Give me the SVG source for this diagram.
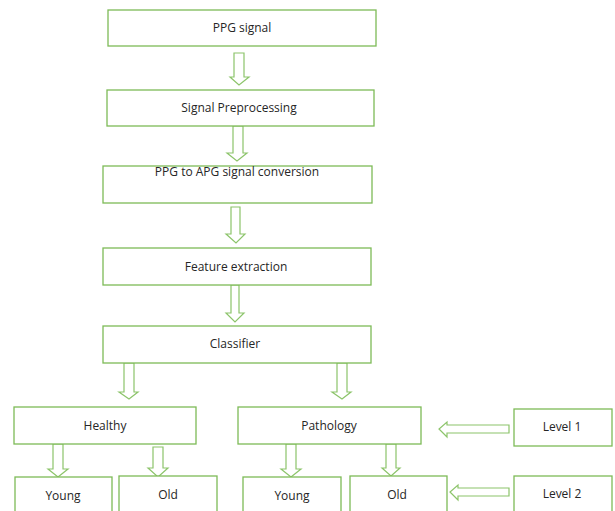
<svg xmlns="http://www.w3.org/2000/svg" width="615" height="511" viewBox="0 0 615 511">
  <style>
    .box { fill: #ffffff; stroke: #7dbb57; stroke-width: 1.3; }
    .arr { fill: #ffffff; stroke: #8cc46a; stroke-width: 1.2; stroke-linejoin: miter; }
    .lbl { font-family: "Open Sans", "Liberation Sans", sans-serif; font-size: 12px; fill: #262626; text-anchor: middle; }
  </style>
  <rect width="615" height="511" fill="#ffffff"/>

  <!-- block arrows -->
  <g id="connectors">
    <!-- PPG signal -> Signal Preprocessing -->
    <polygon class="arr" points="234,53 244,53 244,77 249,77 239,85 230,77 234,77"/>
    <!-- Signal Preprocessing -> PPG to APG -->
    <polygon class="arr" points="233,126 243,126 243,153 247,153 237,161 227,153 233,153"/>
    <!-- PPG to APG -> Feature extraction -->
    <polygon class="arr" points="231,207 240,207 240,234 245,234 236,243 226,234 231,234"/>
    <!-- Feature extraction -> Classifier -->
    <polygon class="arr" points="231,285 239,285 239,313 244,313 235,322 226,313 231,313"/>
    <!-- Classifier -> Healthy -->
    <polygon class="arr" points="124,363 134,363 134,392 138,392 129,399 119,392 124,392"/>
    <!-- Classifier -> Pathology -->
    <polygon class="arr" points="337,363 347,363 347,392 351,392 342,399 332,392 337,392"/>
    <!-- Level 1 -> Pathology -->
    <polygon class="arr" points="509,425 509,433 447,433 447,437 439,429 447,422 447,425"/>
    <!-- Healthy -> Young -->
    <polygon class="arr" points="53,444 63,444 63,469 68,469 58,477 48,469 53,469"/>
    <!-- Healthy -> Old -->
    <polygon class="arr" points="153,447 163,447 163,468 168,468 158,477 148,468 153,468"/>
    <!-- Pathology -> Young -->
    <polygon class="arr" points="286,444 296,444 296,469 301,469 291,477 281,469 286,469"/>
    <!-- Pathology -> Old -->
    <polygon class="arr" points="386,444 396,444 396,468 400,468 391,476 382,468 386,468"/>
    <!-- Level 2 -> Old -->
    <polygon class="arr" points="509,488 509,496 458,496 458,500 450,492 458,485 458,488"/>
  </g>

  <g id="ppg-signal">
    <rect class="box" x="108" y="10" width="268" height="36"/>
    <text class="lbl" x="242" y="32">PPG signal</text>
  </g>
  <g id="signal-preprocessing">
    <rect class="box" x="107" y="90" width="267" height="36"/>
    <text class="lbl" x="239" y="112">Signal Preprocessing</text>
  </g>
  <g id="ppg-to-apg">
    <rect class="box" x="103" y="166" width="269" height="37"/>
    <text class="lbl" x="237" y="176">PPG to APG signal conversion</text>
  </g>
  <g id="feature-extraction">
    <rect class="box" x="103" y="248" width="268" height="37"/>
    <text class="lbl" x="236" y="271">Feature extraction</text>
  </g>
  <g id="classifier">
    <rect class="box" x="103" y="326" width="268" height="37"/>
    <text class="lbl" x="235" y="348">Classifier</text>
  </g>
  <g id="healthy">
    <rect class="box" x="14" y="407" width="182" height="37"/>
    <text class="lbl" x="105" y="430">Healthy</text>
  </g>
  <g id="pathology">
    <rect class="box" x="238" y="407" width="183" height="37"/>
    <text class="lbl" x="329" y="430">Pathology</text>
  </g>
  <g id="level-1">
    <rect class="box" x="514" y="409" width="98" height="37"/>
    <text class="lbl" x="562" y="431">Level 1</text>
  </g>
  <g id="healthy-young">
    <rect class="box" x="15" y="477" width="97" height="40"/>
    <text class="lbl" x="63" y="500">Young</text>
  </g>
  <g id="healthy-old">
    <rect class="box" x="119" y="476" width="98" height="40"/>
    <text class="lbl" x="168" y="499">Old</text>
  </g>
  <g id="pathology-young">
    <rect class="box" x="243" y="477" width="98" height="40"/>
    <text class="lbl" x="292" y="500">Young</text>
  </g>
  <g id="pathology-old">
    <rect class="box" x="350" y="476" width="97" height="40"/>
    <text class="lbl" x="397" y="499">Old</text>
  </g>
  <g id="level-2">
    <rect class="box" x="514" y="476" width="98" height="40"/>
    <text class="lbl" x="562" y="498">Level 2</text>
  </g>
</svg>
